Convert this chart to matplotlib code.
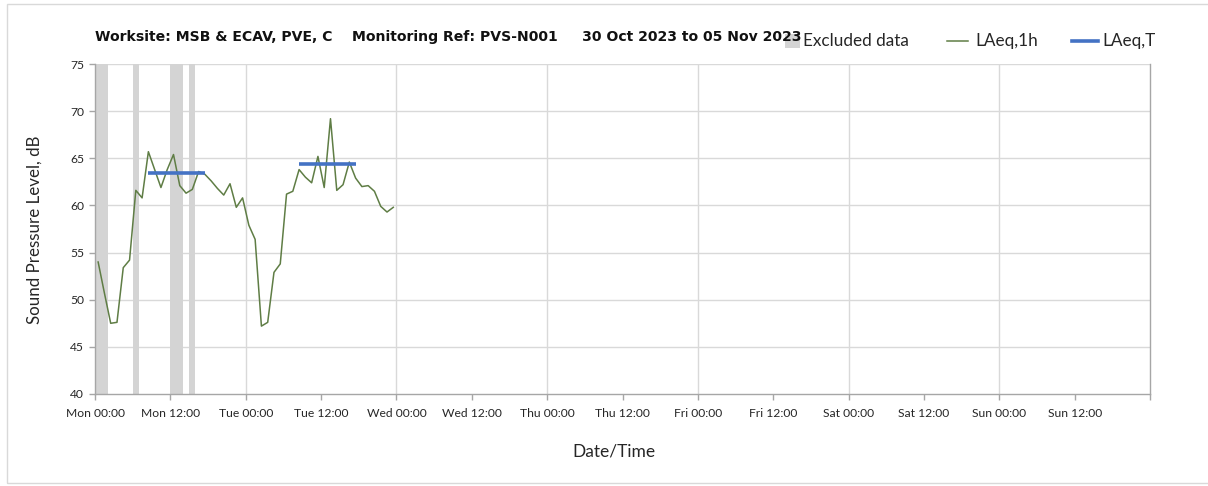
import matplotlib
matplotlib.use("Agg")
import matplotlib.pyplot as plt
import numpy as np
from matplotlib.patches import Rectangle
from matplotlib.lines import Line2D

plt.rcParams['font.family'] = ['Lato', 'DejaVu Sans']

# ---- data ----
laeq_1h = [54.0, 50.7, 47.5, 47.6, 53.4, 54.2, 61.6, 60.8, 65.7, 63.8,
           61.9, 63.8, 65.4, 62.1, 61.3, 61.7, 63.6, 63.3, 62.6, 61.8,
           61.1, 62.3, 59.8, 60.8, 57.9, 56.4, 47.2, 47.6, 52.9, 53.8,
           61.2, 61.5, 63.8, 63.0, 62.4, 65.2, 61.9, 69.2, 61.6, 62.2,
           64.6, 62.9, 62.0, 62.1, 61.5, 59.9, 59.3, 59.8]
hours = np.arange(len(laeq_1h)) + 0.5  # hourly values, centred in each hour since Mon 00:00

excluded_start = [0, 6, 12, 15]
excluded_end = [2, 7, 14, 16]

laeq_t_start = [8.5, 32.5]
laeq_t_end = [17.5, 41.5]
laeq_t_value = [63.4, 64.4]

tick_labels = ["Mon 00:00", "Mon 12:00", "Tue 00:00", "Tue 12:00", "Wed 00:00",
               "Wed 12:00", "Thu 00:00", "Thu 12:00", "Fri 00:00", "Fri 12:00",
               "Sat 00:00", "Sat 12:00", "Sun 00:00", "Sun 12:00", ""]

title = "Worksite: MSB & ECAV, PVE, C    Monitoring Ref: PVS-N001     30 Oct 2023 to 05 Nov 2023"
legend_labels = ["Excluded data", "LAeq,1h", "LAeq,T"]

# ---- figure ----
W, H = 1208, 486
fig = plt.figure(figsize=(W / 100, H / 100), dpi=100)
ax = fig.add_axes([95 / W, 1 - 394 / H, (1150 - 95) / W, (394 - 64) / H])

green = "#5f7d45"
blue = "#4472c4"
band = "#d4d4d4"
grid = "#d9d9d9"
axis_grey = "#a6a6a6"
txt = "#262626"

for s, e in zip(excluded_start, excluded_end):
    ax.axvspan(s, e, color=band, lw=0, zorder=1)

ax.plot(hours, laeq_1h, color=green, lw=1.1, zorder=3)
for s, e, v in zip(laeq_t_start, laeq_t_end, laeq_t_value):
    ax.plot([s, e], [v, v], color=blue, lw=2.6, solid_capstyle='butt', zorder=4)

ax.set_xlim(0, 168)
ax.set_ylim(40, 75)
ax.set_yticks(np.arange(40, 76, 5))
ax.set_xticks(np.arange(0, 169, 12))
ax.set_xticklabels(tick_labels)

for y in range(45, 76, 5):
    ax.axhline(y, color=grid, lw=1, zorder=0)
for x in range(24, 168, 24):
    ax.axvline(x, color=grid, lw=1, zorder=0)

ax.spines['top'].set_visible(False)
for sp in ['left', 'bottom', 'right']:
    ax.spines[sp].set_color(axis_grey)
    ax.spines[sp].set_linewidth(1)

ax.tick_params(axis='both', colors=axis_grey, labelcolor=txt, labelsize=8.7,
               length=4, width=1, direction='out')
ax.tick_params(axis='x', pad=6)
ax.tick_params(axis='y', pad=4)

fig.text(35 / W, 1 - 230 / H, "Sound Pressure Level, dB", fontsize=12.2, color=txt,
         rotation=90, ha='center', va='center')
fig.text(614 / W, 1 - 451 / H, "Date/Time", fontsize=12.5, color=txt,
         ha='center', va='center')

fig.text(95 / W, 1 - 37 / H, title, fontsize=10.1, fontweight='bold', color="#111111",
         ha='left', va='center', family=['DejaVu Sans'], zorder=6)

# legend (drawn in figure pixel positions, overlapping the title end as in the original)
ly = 1 - 41 / H
fig.add_artist(Rectangle((785 / W, 1 - 48 / H), 15 / W, 14 / H, transform=fig.transFigure,
                         facecolor=band, edgecolor='none', zorder=1))
fig.text(803 / W, ly, legend_labels[0], fontsize=12.3, color=txt, ha='left', va='center')
fig.add_artist(Line2D([947 / W, 968 / W], [ly, ly], transform=fig.transFigure,
                      color=green, lw=1.1))
fig.text(975 / W, ly, legend_labels[1], fontsize=12.3, color=txt, ha='left', va='center')
fig.add_artist(Line2D([1072 / W, 1098 / W], [ly, ly], transform=fig.transFigure,
                      color=blue, lw=2.6))
fig.text(1102 / W, ly, legend_labels[2], fontsize=12.3, color=txt, ha='left', va='center')

# outer chart-area border (right edge lies outside the image)
fig.add_artist(Rectangle((6.5 / W, 3.5 / H), (W + 10) / W, (H - 8) / H, transform=fig.transFigure,
                         fill=False, edgecolor="#d9d9d9", lw=1, zorder=0))

fig.savefig("out.png", dpi=100)
